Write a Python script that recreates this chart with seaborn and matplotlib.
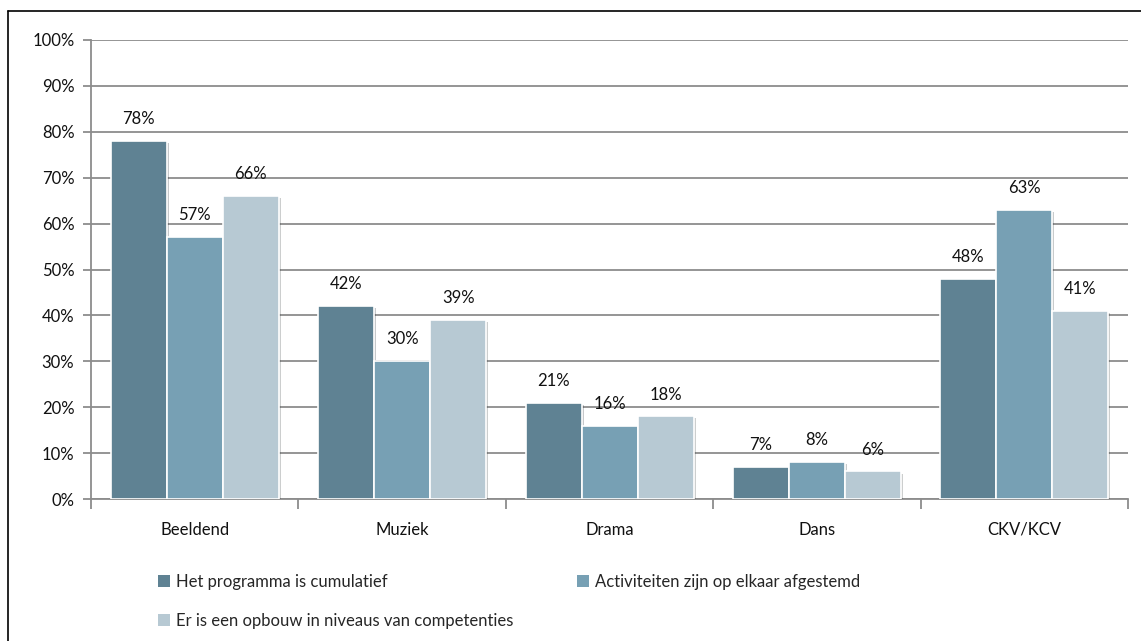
import matplotlib
matplotlib.use('Agg')
import matplotlib.pyplot as plt
import matplotlib.patheffects as pe
from matplotlib.lines import Line2D
from matplotlib.ticker import FixedLocator, PercentFormatter
import numpy as np
import pandas as pd
import seaborn as sns

categories = ["Beeldend", "Muziek", "Drama", "Dans", "CKV/KCV"]
series = [
    "Het programma is cumulatief",
    "Activiteiten zijn op elkaar afgestemd",
    "Er is een opbouw in niveaus van competenties",
]
cumulatief = [78, 42, 21, 7, 48]
afgestemd = [57, 30, 16, 8, 63]
opbouw = [66, 39, 18, 6, 41]
colors = ["#5F8293", "#77A0B4", "#B7C9D3"]

df = pd.DataFrame({
    "categorie": categories * 3,
    "reeks": [series[0]] * 5 + [series[1]] * 5 + [series[2]] * 5,
    "waarde": cumulatief + afgestemd + opbouw,
})

sns.set_style("white")
plt.rcParams['font.family'] = ['Lato', 'DejaVu Sans']

fig = plt.figure(figsize=(11.41, 6.41), dpi=100)
ax = fig.add_axes([0.0798, 0.2215, 0.9088, 0.7161])

sns.barplot(data=df, x="categorie", y="waarde", hue="reeks", palette=colors,
            saturation=1, width=0.81, edgecolor="white", linewidth=1.2,
            ax=ax, legend=True, zorder=3)

for bar in ax.patches:
    bar.set_path_effects([pe.SimplePatchShadow(offset=(1.5, -1.5), alpha=0.25),
                          pe.Normal()])

for cont in ax.containers:
    for bar in cont:
        h = bar.get_height()
        ax.annotate(f"{h:.0f}%", (bar.get_x() + bar.get_width() / 2, h),
                    xytext=(0, 10), textcoords="offset points",
                    ha="center", va="bottom", fontsize=12, color="#111111")

ax.set_ylim(0, 100)
ax.set_xlim(-0.5, len(categories) - 0.5)
ax.set_yticks(np.arange(0, 101, 10))
ax.yaxis.set_major_formatter(PercentFormatter(decimals=0))
ax.grid(axis="y", color="#8C8C8C", linewidth=1.3, zorder=0)
ax.set_axisbelow(True)
ax.set_xlabel("")
ax.set_ylabel("")

for s in ["top", "right"]:
    ax.spines[s].set_visible(False)
for s in ["left", "bottom"]:
    ax.spines[s].set_color("#8C8C8C")
    ax.spines[s].set_linewidth(1.3)

ax.tick_params(axis="y", which="major", left=True, length=6, width=1.3,
               color="#8C8C8C", labelsize=12, pad=6, labelcolor="#111111")
ax.tick_params(axis="x", which="major", bottom=False, labelsize=12, pad=13,
               labelcolor="#111111")
ax.xaxis.set_minor_locator(FixedLocator(np.arange(-0.5, len(categories), 1.0)))
ax.tick_params(axis="x", which="minor", bottom=True, length=7, width=1.3,
               color="#8C8C8C")

# legend filled row by row: two items on the first row, one on the second
handles, labels = ax.get_legend_handles_labels()
order = [0, 2, 1]
leg = ax.legend([handles[i] for i in order], [labels[i] for i in order],
                loc="upper left", bbox_to_anchor=(0.05, -0.13),
                ncol=2, frameon=False, fontsize=12, handlelength=0.7,
                handleheight=0.7, handletextpad=0.4, columnspacing=3.8,
                labelspacing=1.4)
for h in leg.legend_handles:
    h.set_path_effects([])
    h.set_edgecolor("none")

# outer frame of the original figure (top and left edges visible)
fig.add_artist(Line2D([8 / 1141, 8 / 1141], [0, 1 - 11 / 641],
                      transform=fig.transFigure, color="black", linewidth=1.2))
fig.add_artist(Line2D([8 / 1141, 1], [1 - 11 / 641, 1 - 11 / 641],
                      transform=fig.transFigure, color="black", linewidth=1.2))

fig.savefig("out.png", dpi=100)
